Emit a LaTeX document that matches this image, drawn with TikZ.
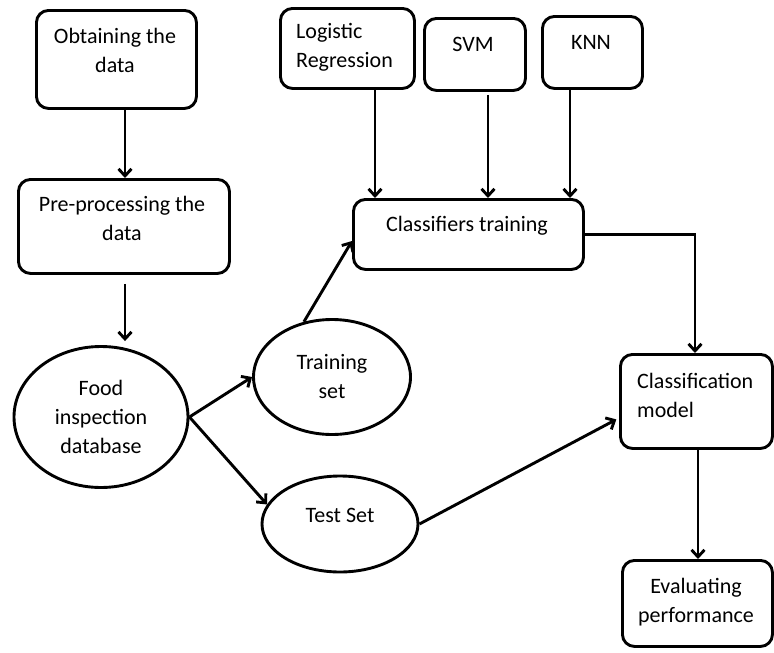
\documentclass[tikz,border=0pt]{standalone}
\usepackage{fontspec}
\setmainfont{Carlito}
\usetikzlibrary{shapes.geometric,arrows.meta,calc}
\begin{document}
\begin{tikzpicture}[x=1pt,y=-1pt,
  box/.style={draw, line width=2.9pt, rounded corners=12pt, anchor=north west, inner sep=0pt},
  oval/.style={draw, ellipse, line width=2.9pt, inner sep=0pt, align=center, font=\fontsize{22}{29}\selectfont},
  txt/.style={align=center, inner sep=0pt, font=\fontsize{22}{29}\selectfont},
  ltxt/.style={align=left, inner sep=0pt, anchor=west, font=\fontsize{22}{29}\selectfont},
  arr/.style={line width=2.9pt, -{Straight Barb[length=7pt,width=13pt,line width=2.9pt]}}]
\useasboundingbox (0,0) rectangle (774,653);
% boxes
\node[box, minimum width=160pt, minimum height=98pt] (obt) at (35,9) {};
\node[txt] (obtt) at (115,50) {Obtaining the\\data};
\node[box, minimum width=211pt, minimum height=94pt] (pre) at (17,178) {};
\node[txt] (pret) at (122,218) {Pre-processing the\\data};
\node[box, minimum width=134pt, minimum height=80pt] (lr) at (279,7) {};
\node[ltxt] (lrt) at (296,47) {Logistic\\Regression};
\node[box, minimum width=101pt, minimum height=72pt] (svm) at (423,17) {};
\node[txt] (svmt) at (473,44) {SVM};
\node[box, minimum width=100pt, minimum height=72pt] (knn) at (541,15) {};
\node[txt] (knnt) at (591,42) {KNN};
\node[box, minimum width=230pt, minimum height=70pt] (cls) at (352,198) {};
\node[txt] (clst) at (467,226) {Classifiers training};
\node[box, minimum width=152pt, minimum height=94pt] (cm) at (619,353) {};
\node[ltxt] (cmt) at (637,395) {Classification\\model};
\node[box, minimum width=150pt, minimum height=86pt] (ev) at (621,559) {};
\node[txt] (evt) at (696,602) {Evaluating\\performance};
% ellipses
\node[oval, minimum width=174pt, minimum height=141pt] (food) at (101,417) {Food\\inspection\\database};
\node[oval, minimum width=157pt, minimum height=115pt] (train) at (332,377) {Training\\set};
\node[oval, minimum width=156pt, minimum height=96pt] (test) at (340,524) {};
\node[txt] (testt) at (340,515) {Test Set};
% connectors
\draw[arr] (obt.south -| 125,0) -- (pre.north -| 125,0);
\draw[arr, shorten <=9pt, shorten >=4pt] (pre.south -| 125,0) -- (food.north -| 125,0);
\draw[arr] (food.east) -- (train.west);
\draw[arr] (food.east) -- (test.165);
\draw[arr] (train.117) -- (cls.west |- 0,241);
\draw[arr] (lr.south -| 375,0) -- (cls.north -| 375,0);
\draw[arr, shorten <=3pt] (svm.south -| 488,0) -- (cls.north -| 488,0);
\draw[arr] (knn.south -| 570,0) -- (cls.north -| 570,0);
\draw[arr] (cls.east) -- (cls.east -| 695,0) -- (cm.north -| 695,0);
\draw[arr, shorten >=3pt] (test.east) -- (cm.west |- 0,418);
\draw[arr] (cm.south -| 698,0) -- (ev.north -| 698,0);
\end{tikzpicture}
\end{document}
